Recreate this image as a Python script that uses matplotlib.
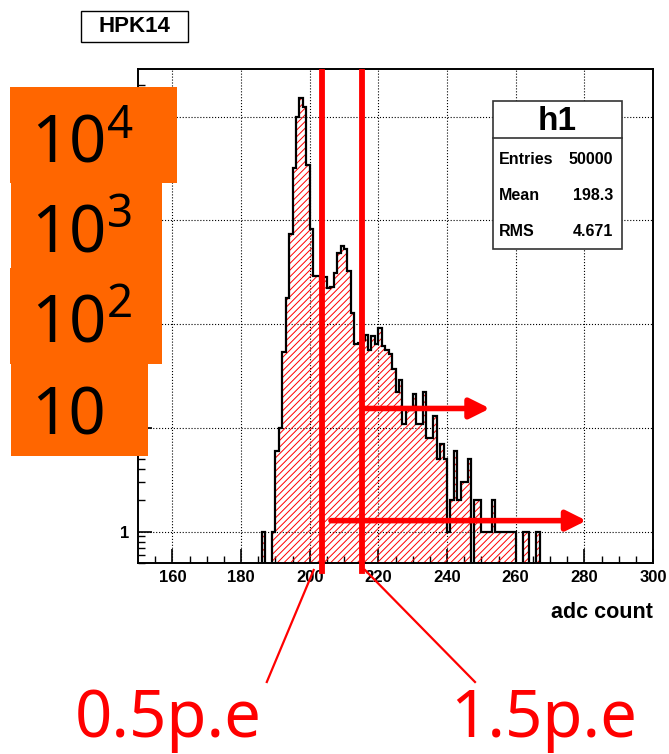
import numpy as np
import matplotlib
matplotlib.use('Agg')
import matplotlib.pyplot as plt
from matplotlib.patches import Rectangle
from matplotlib.lines import Line2D

# histogram h1, 1 adc count per bin, first bin starts at 186
bin_start = 186
counts = [1, 0, 0, 1, 6, 10, 54, 180, 738, 3210,          # 186-195
          9820, 14970, 12420, 3410, 824, 290, 290, 270, 286, 224,   # 196-205
          229, 308, 481, 569, 525, 327, 127, 64, 66, 70,   # 206-215
          78, 56, 76, 65, 91, 62, 56, 52, 37, 22,          # 216-225
          29, 11, 15, 15, 21, 11, 11, 22, 8, 8,            # 226-235
          13, 5, 7, 5, 1, 2, 6, 2, 3, 3,                   # 236-245
          5, 0, 2, 2, 1, 1, 1, 2, 1, 1,                    # 246-255
          1, 1, 1, 1, 0, 0, 1, 1, 0, 0,                    # 256-265
          1]                                               # 266
stats_labels = ['Entries', 'Mean', 'RMS']
stats_values = ['50000', '198.3', '4.671']
x_ticks = [160, 180, 200, 220, 240, 260, 280, 300]
y_ticks = [1, 10, 100, 1000, 10000]
# the upper decade labels sit under the orange boxes, which carry them instead
y_ticklabels = ['1', '', '', '', '']
box_labels = [r'$\mathregular{10^{4}}$', r'$\mathregular{10^{3}}$',
              r'$\mathregular{10^{2}}$', '10']

# cut positions (0.5 p.e. and 1.5 p.e.) and the arrows drawn from them
cut_05 = 203.7
cut_15 = 215.3
arrow_15 = (215.3, 252.5, 15.4)   # x start, x end, y
arrow_05 = (206.2, 280.6, 1.28)

W, H = 669, 754
plt.rcParams['font.family'] = ['Liberation Sans', 'DejaVu Sans']
plt.rcParams['font.weight'] = 'bold'
plt.rcParams['hatch.linewidth'] = 0.7

fig = plt.figure(figsize=(W / 100, H / 100), dpi=100)
ax = fig.add_axes([138 / W, 1 - 563 / H, (653 - 138) / W, (563 - 69) / H])

counts = np.array(counts, dtype=float)
edges = np.arange(bin_start, bin_start + len(counts) + 1)
vals = np.maximum(counts, 0.1)   # empty bins go below the axis floor
ax.stairs(vals, edges, baseline=0.1, fill=True, facecolor='none',
          edgecolor='red', hatch='/////', lw=0, zorder=2)
ax.stairs(vals, edges, baseline=0.1, fill=False, color='black', lw=1.6, zorder=3)

ax.set_yscale('log')
ax.set_xlim(150, 300)
ax.set_ylim(0.5, 10 ** 4.4576)
ax.set_xticks(x_ticks)
ax.set_xticks(np.arange(155, 300, 5), minor=True)
ax.set_yticks(y_ticks)
ax.set_yticklabels(y_ticklabels)
ax.tick_params(which='major', direction='in', length=10, width=1.2,
               labelsize=12, top=False, right=False)
ax.tick_params(axis='x', which='major', pad=5)
ax.tick_params(axis='y', which='major', pad=6)
ax.tick_params(which='minor', direction='in', length=5, width=1.0, top=False, right=False)
ax.grid(True, which='major', ls=':', color='black', lw=0.8)
for s in ax.spines.values():
    s.set_linewidth(1.4)
ax.set_xlabel('adc count', loc='right', fontsize=15.5, fontweight='bold', labelpad=12)

# cut lines and arrows
for c in (cut_05, cut_15):
    ax.axvline(c, ymin=-0.016, ymax=0.994, color='red', lw=4.2, clip_on=False, zorder=4)
for x0, x1, yv in (arrow_15, arrow_05):
    ax.annotate('', xy=(x1, yv), xytext=(x0, yv),
                arrowprops=dict(arrowstyle='-|>,head_length=0.6,head_width=0.3',
                                mutation_scale=20, lw=4, color='red',
                                shrinkA=0, shrinkB=0), zorder=5)


def fx(x):
    return x / W


def fy(y):
    return 1 - y / H


def box(x0, y0, x1, y1, **kw):
    fig.add_artist(Rectangle((fx(x0), fy(y1)), (x1 - x0) / W, (y1 - y0) / H,
                             transform=fig.transFigure, **kw))


# stats box
box(493, 101, 622, 249, facecolor='white', edgecolor='#333333', lw=1.2, zorder=5)
fig.add_artist(Line2D([fx(493), fx(622)], [fy(138.3), fy(138.3)],
                      transform=fig.transFigure, color='#333333', lw=1.2, zorder=6))
fig.text(fx(557), fy(121), 'h1', ha='center', va='center', fontsize=24, fontweight='bold', zorder=7)
for i, (lab, v) in enumerate(zip(stats_labels, stats_values)):
    yy = fy(160 + i * 36)
    fig.text(fx(499), yy, lab, ha='left', va='center', fontsize=11.5, fontweight='bold', zorder=7)
    fig.text(fx(613), yy, v, ha='right', va='center', fontsize=11.5, fontweight='bold', zorder=7)

# title box
box(81, 11, 188, 42, facecolor='white', edgecolor='black', lw=1.0, zorder=5)
fig.text(fx(134.5), fy(27), 'HPK14', ha='center', va='center', fontsize=16, fontweight='bold', zorder=7)

# orange label boxes covering the y axis labels
orange = '#ff6600'
big = ['Noto Sans', 'DejaVu Sans']
box_geom = [(10, 87, 177, 183, 162), (11, 183, 162, 268, 252),
            (10, 268, 162, 364, 343), (11, 364, 148, 456, 435)]
for (x0, y0, x1, y1, base_y), lab in zip(box_geom, box_labels):
    box(x0, y0, x1, y1, facecolor=orange, edgecolor='none', zorder=8)
    fig.text(fx(31), fy(base_y), lab, ha='left', va='baseline', fontsize=47,
             fontweight='normal', family=big, zorder=9)

# p.e. labels with leader lines
for (xa, ya, xb, yb) in [(313.7, 570, 266.8, 682), (365, 570, 475, 682)]:
    fig.add_artist(Line2D([fx(xa), fx(xb)], [fy(ya), fy(yb)], transform=fig.transFigure,
                          color='red', lw=1.6, zorder=6))
fig.text(fx(75), fy(737), '0.5p.e', ha='left', va='baseline', fontsize=47,
         fontweight='normal', family=big, color='red')
fig.text(fx(450), fy(737), '1.5p.e', ha='left', va='baseline', fontsize=47,
         fontweight='normal', family=big, color='red')

fig.savefig('out.png', dpi=100)
